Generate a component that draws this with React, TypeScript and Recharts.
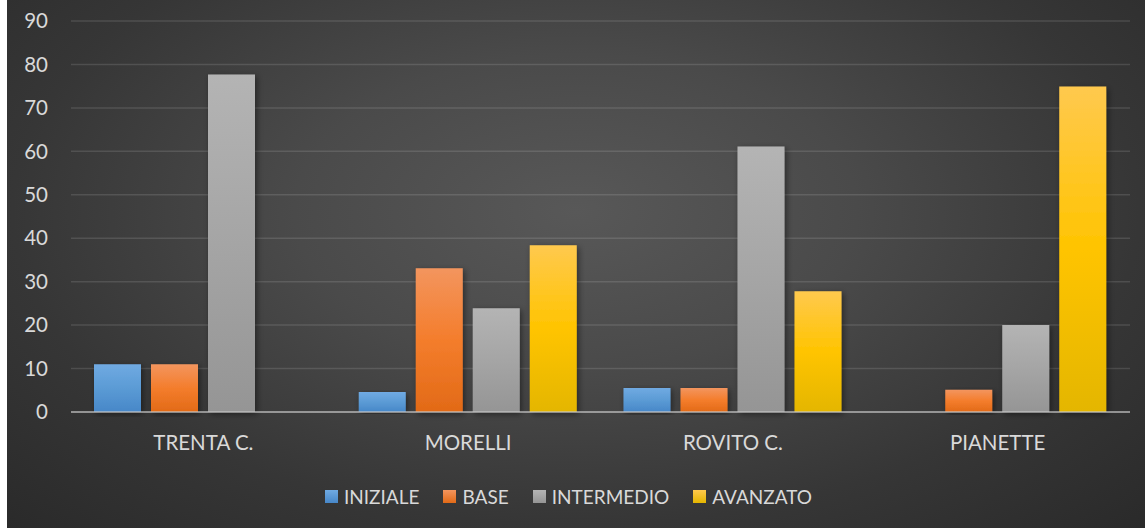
import React from "react";
import {
    BarChart,
    Bar,
    XAxis,
    YAxis,
    CartesianGrid,
    Legend,
} from "recharts";

const categories = ["TRENTA C.", "MORELLI", "ROVITO C.", "PIANETTE"];
const iniziale = [11, 4.6, 5.5, 0];
const base = [11, 33.1, 5.5, 5.1];
const intermedio = [77.7, 23.9, 61.1, 20];
const avanzato = [0, 38.4, 27.8, 74.9];
const yTicks = [0, 10, 20, 30, 40, 50, 60, 70, 80, 90];

const series = [
    { key: "iniziale", name: "INIZIALE", top: "#70aae2", mid: "#5b9bd5", bottom: "#4787c8" },
    { key: "base", name: "BASE", top: "#f3955e", mid: "#f47d2c", bottom: "#e26a17" },
    { key: "intermedio", name: "INTERMEDIO", top: "#b4b4b4", mid: "#a5a5a5", bottom: "#959595" },
    { key: "avanzato", name: "AVANZATO", top: "#ffc94e", mid: "#ffc400", bottom: "#e4b600" },
];

const data = categories.map((name, i) => ({
    name,
    iniziale: iniziale[i],
    base: base[i],
    intermedio: intermedio[i],
    avanzato: avanzato[i],
}));

const FONT = "Lato, 'Open Sans', sans-serif";

const LegendContent = () => (
    <div
        style={{
            height: 60,
            display: "flex",
            justifyContent: "center",
            alignItems: "center",
            paddingBottom: 4,
            boxSizing: "border-box",
            fontFamily: FONT,
            fontSize: 19,
            color: "#d9d9d9",
        }}
    >
        {series.map((s) => (
            <div key={s.key} style={{ display: "flex", alignItems: "center", margin: "0 12px" }}>
                <span
                    style={{
                        width: 13,
                        height: 13,
                        marginRight: 6,
                        background: `linear-gradient(${s.top}, ${s.bottom})`,
                    }}
                />
                <span>{s.name}</span>
            </div>
        ))}
    </div>
);

const App: React.FC = () => {
    return (
        <div
            style={{
                position: "absolute",
                left: 7,
                top: 0,
                width: 1138,
                height: 528,
                background:
                    "radial-gradient(ellipse at 50% 40%, #585858 0%, #4a4a4a 35%, #363636 70%, #2a2a2a 100%)",
            }}
        >
            <BarChart
                width={1138}
                height={528}
                data={data}
                margin={{ top: 21, right: 15, left: 0, bottom: 0 }}
                barCategoryGap={23}
                barGap={10}
            >
                <defs>
                    {series.map((s) => (
                        <linearGradient key={s.key} id={`grad-${s.key}`} x1="0" y1="0" x2="0" y2="1">
                            <stop offset="0%" stopColor={s.top} />
                            <stop offset="50%" stopColor={s.mid} />
                            <stop offset="100%" stopColor={s.bottom} />
                        </linearGradient>
                    ))}
                    <filter id="barShadow" x="-30%" y="-10%" width="160%" height="120%">
                        <feDropShadow dx="2" dy="2" stdDeviation="3" floodColor="#000" floodOpacity="0.45" />
                    </filter>
                </defs>
                <CartesianGrid
                    vertical={false}
                    stroke="#ffffff"
                    strokeOpacity={0.12}
                    strokeWidth={1.5}
                />
                <XAxis
                    dataKey="name"
                    height={56}
                    tickLine={false}
                    tickSize={0}
                    tickMargin={23}
                    axisLine={{ stroke: "#c8c8c8", strokeOpacity: 0.6, strokeWidth: 2 }}
                    tick={{ fill: "#d9d9d9", fontSize: 20.5, fontFamily: FONT }}
                />
                <YAxis
                    width={64}
                    domain={[0, 90]}
                    ticks={yTicks}
                    interval={0}
                    axisLine={false}
                    tickLine={false}
                    tickSize={0}
                    tickMargin={23}
                    tick={{ fill: "#d9d9d9", fontSize: 20.5, fontFamily: FONT }}
                />
                <Legend verticalAlign="bottom" content={<LegendContent />} />
                {series.map((s) => (
                    <Bar
                        key={s.key}
                        dataKey={s.key}
                        name={s.name}
                        fill={`url(#grad-${s.key})`}
                        filter="url(#barShadow)"
                        isAnimationActive={false}
                    />
                ))}
            </BarChart>
        </div>
    );
};

export default App;
